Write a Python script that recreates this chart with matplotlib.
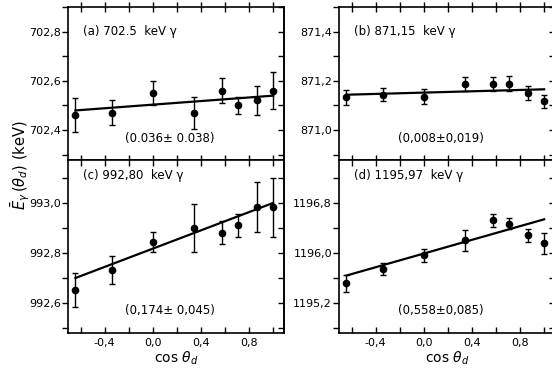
import numpy as np
import matplotlib
matplotlib.use("Agg")
import matplotlib.pyplot as plt
from matplotlib.ticker import MultipleLocator, FuncFormatter, NullFormatter

plt.rcParams["font.family"] = ["DejaVu Sans"]
plt.rcParams["mathtext.fontset"] = "dejavusans"

# detector angles (cos theta_d), same for all panels
cos_theta = [-0.643, -0.342, 0.0, 0.342, 0.574, 0.707, 0.866, 1.0]

# (a) 702.5 keV
E_a = [702.46, 702.47, 702.55, 702.47, 702.56, 702.50, 702.52, 702.56]
err_a = [0.07, 0.05, 0.05, 0.065, 0.05, 0.035, 0.06, 0.075]
fit_a = (702.503, 0.0366)

# (b) 871.15 keV
E_b = [871.133, 871.144, 871.136, 871.188, 871.188, 871.188, 871.150, 871.116]
err_b = [0.03, 0.025, 0.03, 0.028, 0.028, 0.03, 0.027, 0.027]
fit_b = (871.152, 0.0134)

# (c) 992.80 keV
E_c = [992.653, 992.733, 992.844, 992.900, 992.882, 992.912, 992.983, 992.983]
err_c = [0.067, 0.057, 0.04, 0.097, 0.045, 0.046, 0.10, 0.117]
fit_c = (992.818, 0.183)

# (d) 1195.97 keV
E_d = [1195.517, 1195.749, 1195.963, 1196.205, 1196.527, 1196.473, 1196.285, 1196.160]
err_d = [0.14, 0.10, 0.10, 0.17, 0.10, 0.09, 0.10, 0.17]
fit_d = (1195.994, 0.55)

titles = ["(a) 702.5  keV γ", "(b) 871,15  keV γ",
          "(c) 992,80  keV γ", "(d) 1195,97  keV γ"]
fit_labels = ["(0.036± 0.038)", "(0,008±0,019)", "(0,174± 0,045)", "(0,558±0,085)"]


def comma_fmt(v, pos):
    return f"{v:.1f}".replace(".", ",")


def draw_panel(ax, E, err, fit, ylim, ystep, title, fit_label, top_row):
    ax.errorbar(cos_theta, E, yerr=err, fmt="o", color="black", ms=4.5,
                capsize=2.5, elinewidth=1.0, capthick=1.0)
    xf = np.array([cos_theta[0], cos_theta[-1]])
    ax.plot(xf, fit[0] + fit[1] * xf, color="black", lw=1.6)
    ax.set_xlim(-0.705, 1.09)
    ax.set_ylim(*ylim)
    ax.yaxis.set_major_locator(MultipleLocator(2 * ystep))
    ax.yaxis.set_minor_locator(MultipleLocator(ystep))
    ax.yaxis.set_major_formatter(FuncFormatter(comma_fmt))
    ax.xaxis.set_major_locator(MultipleLocator(0.4))
    ax.xaxis.set_minor_locator(MultipleLocator(0.2))
    ax.xaxis.set_major_formatter(FuncFormatter(comma_fmt))
    for s in ax.spines.values():
        s.set_linewidth(1.2)
    ax.tick_params(axis="y", which="both", direction="out", length=4, width=1,
                   labelsize=8, pad=1, right=False)
    ax.tick_params(axis="x", which="both", direction="in", length=4, width=1,
                   labelsize=8, top=True)
    # inward ticks on the right spine
    sec = ax.secondary_yaxis("right")
    sec.yaxis.set_major_locator(MultipleLocator(ystep))
    sec.yaxis.set_major_formatter(NullFormatter())
    sec.tick_params(direction="in", length=4, width=1)
    sec.spines["right"].set_linewidth(1.2)
    if top_row:
        ax.tick_params(axis="x", which="both", direction="inout", length=7,
                       bottom=True, labelbottom=False)
    else:
        ax.set_xlabel(r"cos $\theta_d$", fontsize=10, labelpad=1)
    ax.text(0.07, 0.84 if top_row else 0.91, title, transform=ax.transAxes,
            fontsize=8.5, ha="left", va="center")
    ax.text(0.47, 0.14 if top_row else 0.13, fit_label, transform=ax.transAxes,
            fontsize=8.5, ha="center", va="center")


W, H = 552, 370
fig = plt.figure(figsize=(W / 100, H / 100), dpi=100)

ax_a = fig.add_axes([68 / W, 1 - 160 / H, 216 / W, 153 / H])
ax_b = fig.add_axes([339 / W, 1 - 160 / H, 216 / W, 153 / H])
ax_c = fig.add_axes([68 / W, 1 - 333 / H, 216 / W, 173 / H])
ax_d = fig.add_axes([339 / W, 1 - 333 / H, 216 / W, 173 / H])

draw_panel(ax_a, E_a, err_a, fit_a, (702.278, 702.9), 0.1, titles[0], fit_labels[0], True)
draw_panel(ax_b, E_b, err_b, fit_b, (870.878, 871.5), 0.1, titles[1], fit_labels[1], True)
draw_panel(ax_c, E_c, err_c, fit_c, (992.48, 993.173), 0.1, titles[2], fit_labels[2], False)
draw_panel(ax_d, E_d, err_d, fit_d, (1194.717, 1197.497), 0.4, titles[3], fit_labels[3], False)

fig.text(20 / W, 1 - 165 / H, r"$\bar{E}_{\gamma}\,(\theta_d)$ (keV)", rotation=90,
         ha="center", va="center", fontsize=10.5)

fig.savefig("out.png", dpi=100)
